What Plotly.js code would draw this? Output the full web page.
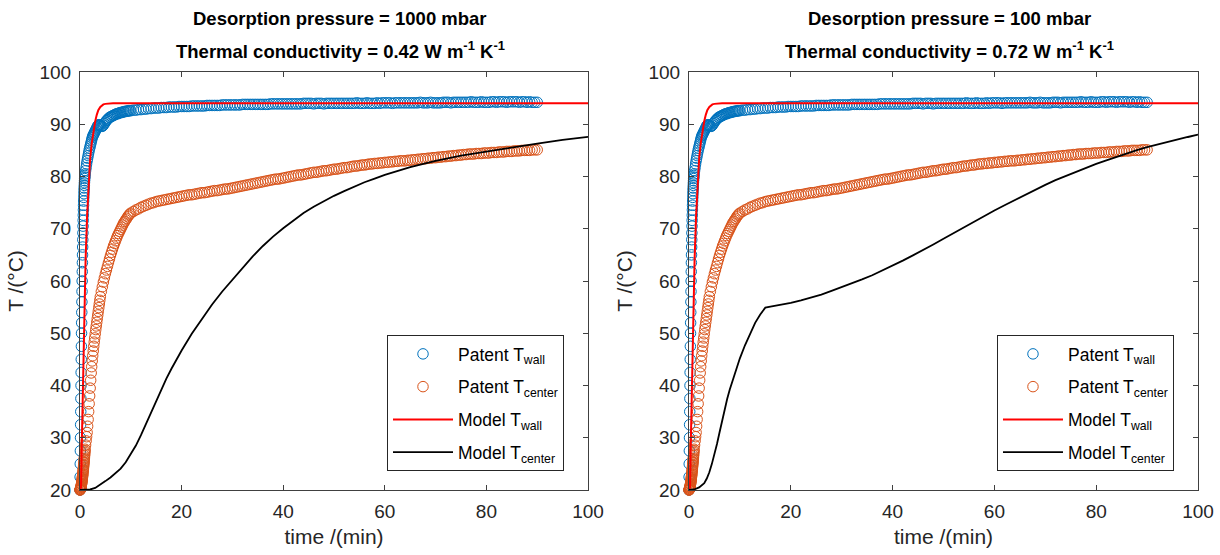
<!DOCTYPE html>
<html><head><meta charset="utf-8">
<script src="https://cdn.plot.ly/plotly-3.0.1.min.js"></script>
<style>html,body{margin:0;padding:0;background:#fff}#chart{width:1220px;height:555px}</style>
</head><body><div id="chart"></div>
<script>
// Patent measurements (shared by both panels), time in min
const patentTime = [
0,0.025,0.05,0.075,0.1,0.125,0.15,0.175,0.2,0.225,0.25,0.275,0.3,0.325,0.35,0.375,0.4,0.425,0.45,0.475,
0.5,0.525,0.55,0.575,0.6,0.625,0.65,0.675,0.7,0.725,0.75,0.775,0.8,0.825,0.85,0.875,0.9,0.925,0.95,0.975,1.0,
1.1,1.2,1.3,1.4,1.5,1.6,1.7,1.8,1.9,2.0,2.1,2.2,2.3,2.4,2.5,2.6,2.7,2.8,2.9,3.0,3.1,3.2,3.3,3.4,3.5,3.6,3.7,3.8,3.9,4.0,
4.2,4.4,4.6,4.8,5.0,5.2,5.4,5.6,5.8,6.0,6.2,6.4,6.6,6.8,7.0,7.2,7.4,7.6,7.8,8.0,8.2,8.4,8.6,8.8,9.0,9.2,9.4,9.6,9.8,10.0,
10.5,11,11.5,12,12.5,13,13.5,14,14.5,15,
15.5,16,16.5,17,17.5,18,18.5,19,19.5,20,
20.5,21,21.5,22,22.5,23,23.5,24,24.5,25,
25.5,26,26.5,27,27.5,28,28.5,29,29.5,30,
30.5,31,31.5,32,32.5,33,33.5,34,34.5,35,
35.5,36,36.5,37,37.5,38,38.5,39,39.5,40,
40.5,41,41.5,42,42.5,43,43.5,44,44.5,45,
45.5,46,46.5,47,47.5,48,48.5,49,49.5,50,
50.5,51,51.5,52,52.5,53,53.5,54,54.5,55,
55.5,56,56.5,57,57.5,58,58.5,59,59.5,60,
60.5,61,61.5,62,62.5,63,63.5,64,64.5,65,
65.5,66,66.5,67,67.5,68,68.5,69,69.5,70,
70.5,71,71.5,72,72.5,73,73.5,74,74.5,75,
75.5,76,76.5,77,77.5,78,78.5,79,79.5,80,
80.5,81,81.5,82,82.5,83,83.5,84,84.5,85,
85.5,86,86.5,87,87.5,88,88.5,89,89.5,90];

const patentWall = [
20,22.5,25,27.5,30,32.5,35,37.5,40,42.5,45,47.5,50,52,54,56,58,60,61.8,63.5,
65,66.5,67.9,69.2,70.5,71.6,72.6,73.6,74.5,75.3,76,76.7,77.3,77.8,78.3,78.8,79.2,79.6,79.9,80.2,80.5,
81.1,81.7,82.4,83.0,83.5,84.0,84.5,85.0,85.4,85.8,86.2,86.6,87.0,87.4,87.7,87.9,88.1,88.3,88.5,88.7,88.9,89.1,89.3,89.5,89.7,89.8,89.9,89.9,89.8,89.7,
89.6,89.6,89.8,90.1,90.4,90.7,90.9,91.1,91.3,91.4,91.5,91.6,91.7,91.8,91.9,92.0,92.0,92.1,92.2,92.2,92.3,92.3,92.4,92.4,92.5,92.5,92.5,92.6,92.6,92.6,
92.7,92.7,92.8,92.8,92.9,92.9,93.0,93.0,93.1,93.1,
93.1,93.2,93.2,93.2,93.3,93.3,93.3,93.3,93.4,93.4,
93.4,93.4,93.4,93.5,93.5,93.5,93.5,93.5,93.5,93.6,
93.6,93.6,93.6,93.6,93.6,93.7,93.7,93.7,93.7,93.7,
93.7,93.7,93.7,93.8,93.8,93.8,93.8,93.8,93.8,93.8,
93.8,93.8,93.8,93.8,93.9,93.9,93.9,93.9,93.9,93.9,
93.9,93.9,93.9,93.9,93.9,93.9,93.9,94.0,94.0,94.0,
94.0,93.9,94.0,94.0,94.0,93.9,94.0,94.0,94.0,94.0,
94.0,94.0,94.0,94.0,94.0,94.0,94.0,94.0,94.1,94.0,
94.0,94.0,94.1,94.0,94.0,94.0,94.1,94.0,94.1,94.1,
94.1,94.1,94.0,94.1,94.1,94.1,94.1,94.1,94.1,94.1,
94.1,94.1,94.1,94.2,94.1,94.1,94.1,94.2,94.1,94.1,
94.1,94.1,94.2,94.2,94.2,94.1,94.2,94.2,94.2,94.2,
94.2,94.2,94.2,94.3,94.2,94.2,94.2,94.3,94.2,94.2,
94.2,94.3,94.3,94.2,94.3,94.3,94.3,94.2,94.3,94.3,
94.3,94.3,94.2,94.3,94.3,94.2,94.3,94.2,94.2,94.2];

const patentCenter = [
20.0,20.0,20.1,20.1,20.2,20.3,20.4,20.5,20.6,20.7,20.8,21.0,21.1,21.3,21.5,21.6,21.8,22.0,22.2,22.4,
22.6,22.8,23.0,23.2,23.5,23.7,23.9,24.2,24.4,24.7,24.9,25.2,25.4,25.7,26.0,26.3,26.6,26.9,27.2,27.5,27.8,
28.6,29.4,30.2,31.0,32.2,33.5,35.0,36.5,38.0,39.5,41.0,42.4,43.6,44.7,45.7,46.6,47.5,48.3,49.1,49.9,50.7,51.4,52.1,52.8,53.5,54.2,54.9,55.6,56.3,57.0,
58.0,58.9,59.8,60.6,61.4,62.1,62.8,63.5,64.2,64.9,65.5,66.1,66.7,67.2,67.7,68.2,68.7,69.1,69.5,69.9,70.3,70.7,71.1,71.4,71.7,72.0,72.3,72.6,72.8,73.0,
73.3,73.6,73.8,74.1,74.3,74.5,74.7,74.9,75.0,75.2,
75.3,75.4,75.5,75.6,75.7,75.8,75.9,76.0,76.1,76.2,
76.3,76.4,76.5,76.5,76.6,76.7,76.8,76.9,76.9,77.0,
77.1,77.2,77.3,77.3,77.4,77.5,77.6,77.6,77.7,77.8,
77.9,78.0,78.1,78.2,78.3,78.4,78.5,78.6,78.7,78.8,
78.9,79.0,79.1,79.2,79.3,79.4,79.5,79.5,79.6,79.7,
79.8,79.9,80.0,80.1,80.2,80.3,80.3,80.4,80.5,80.6,
80.7,80.8,80.8,80.9,81.0,81.1,81.1,81.2,81.3,81.4,
81.4,81.5,81.6,81.7,81.7,81.8,81.9,82.0,82.0,82.1,
82.2,82.2,82.3,82.4,82.4,82.5,82.5,82.6,82.6,82.7,
82.7,82.8,82.8,82.9,82.9,83.0,83.0,83.0,83.1,83.1,
83.2,83.2,83.3,83.3,83.4,83.4,83.5,83.5,83.6,83.6,
83.7,83.7,83.8,83.8,83.9,83.9,84.0,84.0,84.1,84.1,
84.2,84.2,84.3,84.3,84.3,84.4,84.4,84.4,84.5,84.5,
84.5,84.6,84.6,84.6,84.7,84.7,84.7,84.8,84.8,84.8,
84.9,84.9,84.9,85.0,85.0,85.0,85.0,85.1,85.1,85.1];

// Model wall temperature (same in both panels)
const modelWallTime = [0,0.2,0.4,0.6,0.85,1.1,1.4,1.7,2.0,2.3,2.6,3.0,3.3,3.6,4.0,4.3,4.6,5.0,5.5,6.5,8,100];
const modelWall     = [20,20.5,31,42,55,64,72.5,79,83.5,86.3,88.3,90.6,91.8,92.7,93.3,93.6,93.8,93.9,93.95,94,94,94];

// Model center temperature, left panel (1000 mbar, 0.42 W/m/K)
const modelCenterTimeL = [0,1,2,3,4,5,6,7,8,9,10,11,12,13,14,15,16,17,18,19,20,22,24,26,28,30,32,34,36,38,40,42,44,46,48,50,52,54,56,58,60,65,70,75,80,85,90,95,100];
const modelCenterL     = [20,20.0,20.1,20.4,21.0,21.7,22.4,23.2,24.1,25.3,26.8,28.5,30.5,32.7,35.0,37.2,39.3,41.3,43.2,45.0,46.7,49.9,52.8,55.5,58.0,60.3,62.5,64.7,66.7,68.5,70.1,71.6,73.0,74.2,75.3,76.3,77.2,78.1,78.9,79.6,80.3,81.8,83.0,84.0,84.8,85.6,86.3,87.0,87.6];

// Model center temperature, right panel (100 mbar, 0.72 W/m/K)
const modelCenterTimeR = [0,1,2,3,3.5,4,4.5,5,5.5,6,6.5,7,7.5,8,9,10,11,12,13,14,15,16,18,20,22,24,26,28,30,32,34,36,38,40,42,44,46,48,50,52,54,56,58,60,62,64,66,68,70,72,74,76,78,80,82,84,86,88,90,92,94,96,98,100];
const modelCenterR     = [20,20.1,20.5,21.3,22.2,23.4,25.0,26.8,28.8,31.0,33.3,35.5,37.4,39.2,42.4,45.2,47.7,50.0,52.0,53.6,54.9,55.1,55.4,55.8,56.3,56.8,57.4,58.1,58.8,59.5,60.3,61.1,62.0,62.9,63.9,64.9,65.9,67.0,68.1,69.2,70.3,71.4,72.5,73.5,74.5,75.5,76.5,77.5,78.4,79.3,80.1,80.9,81.7,82.4,83.1,83.8,84.45,85.05,85.6,86.12,86.62,87.1,87.56,88.0];

const titleLine1 = ['Desorption pressure = 1000 mbar', 'Desorption pressure = 100 mbar'];
const titleLine2 = ['Thermal conductivity = 0.42 W m<sup>-1</sup> K<sup>-1</sup>', 'Thermal conductivity = 0.72 W m<sup>-1</sup> K<sup>-1</sup>'];
const legendNames = ['Patent T<sub>wall</sub>', 'Patent T<sub>center</sub>', 'Model T<sub>wall</sub>', 'Model T<sub>center</sub>'];
const xTicks = [0, 20, 40, 60, 80, 100];
const yTicks = [20, 30, 40, 50, 60, 70, 80, 90, 100];
const xLabel = 'time /(min)';
const yLabel = 'T /(°C)';

const FONT = 'Liberation Sans, Arial, Helvetica, sans-serif';
const C_BLUE = '#0072BD', C_ORANGE = '#D95319', C_RED = '#FF0000', C_BLACK = '#000000';

function panelTraces(xa, ya, leg, ct, cv) {
  return [
    {type:'scatter', mode:'markers', x:patentTime, y:patentWall, name:legendNames[0], xaxis:xa, yaxis:ya, legend:leg,
     legendgroup:leg + 'a', cliponaxis:false, marker:{symbol:'circle-open', size:10.5, color:C_BLUE, line:{width:1, color:C_BLUE}}},
    {type:'scatter', mode:'markers', x:patentTime, y:patentCenter, name:legendNames[1], xaxis:xa, yaxis:ya, legend:leg,
     legendgroup:leg + 'b', cliponaxis:false, marker:{symbol:'circle-open', size:10.5, color:C_ORANGE, line:{width:1, color:C_ORANGE}}},
    {type:'scatter', mode:'lines', x:modelWallTime, y:modelWall, name:legendNames[2], xaxis:xa, yaxis:ya, legend:leg,
     legendgroup:leg + 'c', line:{color:C_RED, width:2}},
    {type:'scatter', mode:'lines', x:ct, y:cv, name:legendNames[3], xaxis:xa, yaxis:ya, legend:leg,
     legendgroup:leg + 'd', line:{color:C_BLACK, width:1.8}}
  ];
}

const data = [].concat(
  panelTraces('x', 'y', 'legend', modelCenterTimeL, modelCenterL),
  panelTraces('x2', 'y2', 'legend2', modelCenterTimeR, modelCenterR)
);

const axisBase = {
  showline:true, linecolor:'#404040', linewidth:1, mirror:'ticks', ticks:'inside', ticklen:5,
  tickcolor:'#404040', showgrid:false, zeroline:false, automargin:false,
  tickfont:{family:FONT, size:19, color:'#262626'}, ticklabelstandoff:4
};
function xAxis(domain, anchor) {
  return Object.assign({}, axisBase, {domain:domain, anchor:anchor, range:[0,100], tickvals:xTicks,
    title:{text:xLabel, font:{family:FONT, size:21, color:'#262626'}, standoff:8}});
}
function yAxis(anchor) {
  return Object.assign({}, axisBase, {domain:[0,1], anchor:anchor, range:[20,100], tickvals:yTicks,
    title:{text:yLabel, font:{family:FONT, size:21, color:'#262626'}, standoff:10}});
}

const legendBase = {
  bgcolor:'#ffffff', bordercolor:'#262626', borderwidth:1, font:{family:FONT, size:17.5, color:'#000'},
  xanchor:'left', yanchor:'top', itemwidth:60, tracegroupgap:7, traceorder:'grouped'
};

const annotations = [];
[0.2326, 0.7773].forEach((cx, i) => {
  annotations.push({xref:'paper', yref:'paper', x:cx, y:1.129, xanchor:'center', yanchor:'middle', showarrow:false,
    text:'<b>' + titleLine1[i] + '</b>', font:{family:FONT, size:18.5, color:'#000'}});
  annotations.push({xref:'paper', yref:'paper', x:cx, y:1.053, xanchor:'center', yanchor:'middle', showarrow:false,
    text:'<b>' + titleLine2[i] + '</b>', font:{family:FONT, size:18.5, color:'#000'}});
});

const layout = {
  width:1220, height:555,
  margin:{l:80, r:22, t:72, b:65},
  paper_bgcolor:'#ffffff', plot_bgcolor:'#ffffff',
  font:{family:FONT, color:'#262626'},
  showlegend:true,
  xaxis: xAxis([0, 0.4544], 'y'),
  yaxis: yAxis('x'),
  xaxis2: xAxis([0.5447, 1], 'y2'),
  yaxis2: yAxis('x2'),
  legend: Object.assign({}, legendBase, {x:0.2746, y:0.3708}),
  legend2: Object.assign({}, legendBase, {x:0.8202, y:0.3708}),
  annotations: annotations
};

Plotly.newPlot('chart', data, layout, {displayModeBar:false, staticPlot:true});
</script>
</body></html>
